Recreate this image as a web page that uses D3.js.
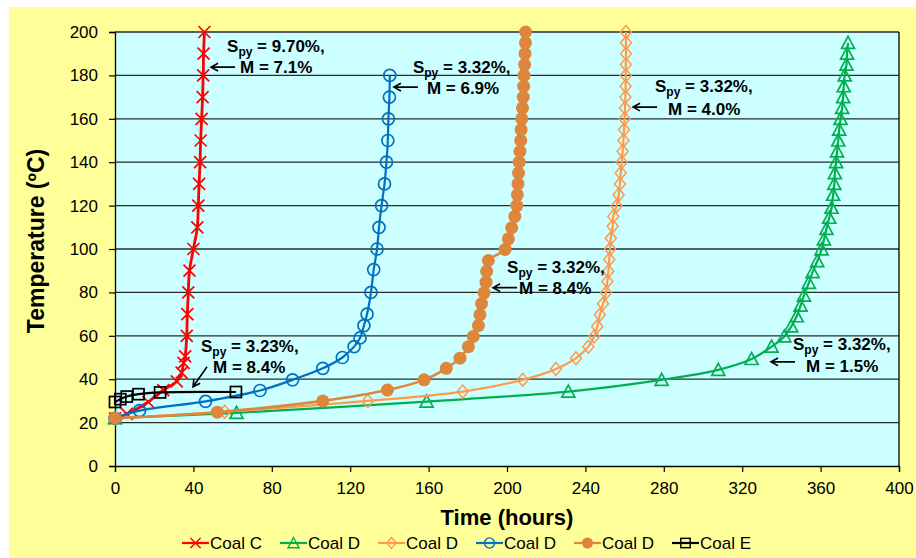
<!DOCTYPE html>
<html>
<head>
<meta charset="utf-8">
<script src="https://cdn.jsdelivr.net/npm/d3@7"></script>
<style>
  body { margin: 0; background: #fff; }
  text { font-family: "Liberation Sans", Arial, sans-serif; }
</style>
</head>
<body>
<svg id="chart" width="916" height="558"></svg>
<script>
// [time (hours), temperature (C)]
var coalC = [[0,22],[6,24],[17,29.5],[24.6,35],[31.5,39],[34,43],[35,47.5],[35.8,50.5],[36.6,60],[36.9,70],
  [37.4,80],[38,90],[40,100],[42,110],[42.5,120],[42.9,130],[43.4,140],[43.7,150],[44.2,160],[44.7,170],
  [45,180],[45.2,190],[45.6,200]];
var coalD_green = [[0,22],[62,24.5],[159,29.7],[231.3,34.3],[278.9,39.7],[307.8,44.3],[324.8,49.3],[335,55],
  [341.5,59.7],[345,64.3],[347.8,69],[349.8,73.9],[351.5,78.5],[354,84.4],[355.9,89.3],[358.3,94.4],
  [360.5,99.8],[361.7,104.4],[363,109.3],[364.4,114.4],[365.6,119],[366.4,125],[367,130],[367.3,135],
  [367.9,140],[368.4,145],[369,150],[369.5,155],[370.2,160],[371,165],[371.5,170],[371.8,175],[372.3,180],
  [373.2,185],[373.5,190],[374,195]];
var coalD_orange = [[0,22],[56,25],[129,30],[177.4,34.3],[208,39.7],[225,44.7],[235.2,49.7],[241.5,55],
  [244.5,59.7],[246,64.3],[247.4,69.7],[249,74.8],[250.5,79.8],[251.2,85],[251.7,89.7],[252.2,95.2],
  [252.6,100],[253,105],[253.9,110.5],[254.2,115],[255.9,119.8],[257,125],[257.6,130],[258,135],[258.5,140],
  [259,145],[259.4,150],[259.7,155],[260,160],[260.2,165],[260.4,170],[260.5,175],[260.6,180],[260.6,185],
  [260.7,190],[260.7,195],[260.7,200]];
var coalD_blue = [[0,22],[12.5,25.5],[46.2,29.8],[74,34.8],[90.6,39.7],[106,45],[116,50],[122,55],[125,59],
  [127,64.7],[128.6,70],[130.6,80],[132,90.5],[133.7,100],[134.7,110],[136,120],[137.5,130],[138.5,140],
  [139.2,150],[139.5,160],[140,170],[140.2,180]];
var coalD_brown = [[0,22],[52.2,24.8],[106,30],[139,35],[157.7,39.7],[169,45],[176,49.7],[180.3,55],
  [182.8,59.7],[185.4,64.7],[186.2,69.7],[187,74.8],[188.3,79.8],[189.3,84.7],[189.6,89.7],[190.5,94.7],
  [199,99.8],[200.7,104.7],[202.4,109.8],[204,115],[205,120],[205.3,125],[205.6,130],[205.9,135],[206.2,140],
  [206.6,145],[207,150],[207.2,155],[207.5,160],[207.9,165],[208.3,170],[208.5,175],[208.7,180],[209,185],
  [209.2,190],[209.4,195],[209.5,200]];
var coalE = [[0,29.5],[2.7,30.8],[6,32],[12,33.1],[23,33.9],[61.7,34.1]];

var seriesNames = ["Coal C", "Coal D", "Coal D", "Coal D", "Coal D", "Coal E"];
var xTicks = [0, 40, 80, 120, 160, 200, 240, 280, 320, 360, 400];
var yTicks = [0, 20, 40, 60, 80, 100, 120, 140, 160, 180, 200];

// callouts: arrow tip in data units, S_py and M values
var notes = [
  { t: 49, T: 183.8, spy: "9.70%,", m: "7.1%" },
  { t: 142.3, T: 174.6, spy: "3.32%,", m: "6.9%" },
  { t: 264.3, T: 165.4, spy: "3.32%,", m: "4.0%" },
  { t: 192.9, T: 82.2, spy: "3.32%,", m: "8.4%" },
  { t: 39.8, T: 36.5, spy: "3.23%,", m: "8.4%" },
  { t: 334.7, T: 48, spy: "3.32%,", m: "1.5%" }
];
// text offsets from the arrow tip (pixels)
var noteLayout = [
  { sx: 16, sy: -15, mx: 29, my: 6, ax: 24, ay: 0 },
  { sx: 19, sy: -14, mx: 33, my: 7, ax: 24, ay: 0 },
  { sx: 22, sy: -15, mx: 35, my: 8, ax: 24, ay: 0 },
  { sx: 14, sy: -15, mx: 26, my: 6, ax: 24, ay: 0 },
  { sx: 8, sy: -35, mx: 20, my: -14, ax: 14, ay: -20 },
  { sx: 22, sy: -12, mx: 35, my: 10, ax: 24, ay: 0 }
];

var svg = d3.select("#chart");
var plot = { left: 115, right: 899, top: 32, bottom: 466 };

var x = d3.scaleLinear().domain([0, 400]).range([plot.left, plot.right]);
var y = d3.scaleLinear().domain([0, 200]).range([plot.bottom, plot.top]);

// backgrounds
svg.append("rect").attr("x", 9).attr("y", 7).attr("width", 907).attr("height", 551).attr("fill", "#FFFF99");
svg.append("rect").attr("x", plot.left).attr("y", plot.top)
  .attr("width", plot.right - plot.left).attr("height", plot.bottom - plot.top)
  .attr("fill", "#CCFFFF");

// gridlines
svg.append("g").selectAll("line").data(yTicks.slice(1)).join("line")
  .attr("x1", plot.left).attr("x2", plot.right)
  .attr("y1", function (d) { return y(d); }).attr("y2", function (d) { return y(d); })
  .attr("stroke", "#2b2b2b").attr("stroke-width", 1.3);

svg.append("line").attr("x1", plot.right).attr("x2", plot.right).attr("y1", plot.top).attr("y2", plot.bottom)
  .attr("stroke", "#000").attr("stroke-width", 1.3);

// axes
var yAxis = d3.axisLeft(y).tickValues(yTicks).tickSize(6).tickPadding(11);
var xAxis = d3.axisBottom(x).tickValues(xTicks).tickSize(6).tickPadding(10);

var gy = svg.append("g").attr("transform", "translate(" + plot.left + ",0)").call(yAxis);
var gx = svg.append("g").attr("transform", "translate(0," + plot.bottom + ")").call(xAxis);
[gx, gy].forEach(function (g) {
  g.selectAll("path.domain").attr("stroke", "#000").attr("stroke-width", 1.3);
  g.selectAll(".tick line").attr("stroke", "#000").attr("stroke-width", 1.2);
  g.selectAll(".tick text").attr("fill", "#000").style("font-size", "17px")
    .style("font-family", "'Liberation Sans', Arial, sans-serif");
});

// axis titles
svg.append("text").attr("x", (plot.left + plot.right) / 2).attr("y", 525).attr("text-anchor", "middle")
  .style("font-size", "22px").style("font-weight", "bold").text("Time (hours)");
svg.append("text").attr("transform", "translate(44,241) rotate(-90)").attr("text-anchor", "middle")
  .style("font-size", "23px").style("font-weight", "bold").text("Temperature (ºC)");

// markers
function marker(g, kind, color) {
  if (kind === "x") {
    g.append("path").attr("d", "M-6,-6L6,6M-6,6L6,-6").attr("stroke", color).attr("stroke-width", 1.7).attr("fill", "none");
  } else if (kind === "tri") {
    g.append("path").attr("d", "M0,-6.5L6.5,5.5L-6.5,5.5Z").attr("stroke", color).attr("stroke-width", 1.7).attr("fill", "none");
  } else if (kind === "dia") {
    g.append("path").attr("d", "M0,-6.5L5.5,0L0,6.5L-5.5,0Z").attr("stroke", color).attr("stroke-width", 1.5).attr("fill", "none");
  } else if (kind === "circ") {
    g.append("circle").attr("r", 6).attr("stroke", color).attr("stroke-width", 1.7).attr("fill", "none");
  } else if (kind === "dot") {
    g.append("circle").attr("r", 6.5).attr("fill", color);
  } else if (kind === "sq") {
    g.append("rect").attr("x", -5.5).attr("y", -5.5).attr("width", 11).attr("height", 11)
      .attr("stroke", color).attr("stroke-width", 1.7).attr("fill", "none");
  }
}

var series = [
  { name: seriesNames[0], data: coalC, color: "#FF0000", kind: "x", width: 2.8 },
  { name: seriesNames[1], data: coalD_green, color: "#00B050", kind: "tri", width: 2.2 },
  { name: seriesNames[2], data: coalD_orange, color: "#FF9A4C", kind: "dia", width: 2.2 },
  { name: seriesNames[3], data: coalD_blue, color: "#0070C0", kind: "circ", width: 2.2 },
  { name: seriesNames[4], data: coalD_brown, color: "#DD863C", kind: "dot", width: 2.6 },
  { name: seriesNames[5], data: coalE, color: "#000000", kind: "sq", width: 2.2 }
];

var line = d3.line()
  .x(function (d) { return x(d[0]); })
  .y(function (d) { return y(d[1]); })
  .curve(d3.curveCatmullRom.alpha(0.5));

series.forEach(function (s) {
  var g = svg.append("g");
  g.append("path").datum(s.data).attr("d", line)
    .attr("fill", "none").attr("stroke", s.color).attr("stroke-width", s.width);
  g.selectAll("g.pt").data(s.data).join("g").attr("class", "pt")
    .attr("transform", function (d) { return "translate(" + x(d[0]) + "," + y(d[1]) + ")"; })
    .each(function () { marker(d3.select(this), s.kind, s.color); });
});

// callouts
notes.forEach(function (n, i) {
  var L = noteLayout[i];
  var tx = x(n.t), ty = y(n.T);
  var g = svg.append("g").style("font-weight", "bold").style("font-size", "17px");
  var t1 = g.append("text").attr("x", tx + L.sx).attr("y", ty + L.sy);
  t1.append("tspan").text("S");
  t1.append("tspan").attr("dy", 4).style("font-size", "12px").text("py");
  t1.append("tspan").attr("dy", -4).text(" = " + n.spy);
  g.append("text").attr("x", tx + L.mx).attr("y", ty + L.my).text("M = " + n.m);
  var ax = tx + L.ax, ay = ty + L.ay;
  var ang = Math.atan2(ay - ty, ax - tx);
  var h = 8, w = 0.5;
  g.append("path")
    .attr("d", "M" + ax + "," + ay + "L" + tx + "," + ty +
      "M" + (tx + h * Math.cos(ang + w)) + "," + (ty + h * Math.sin(ang + w)) +
      "L" + tx + "," + ty +
      "L" + (tx + h * Math.cos(ang - w)) + "," + (ty + h * Math.sin(ang - w)))
    .attr("stroke", "#000").attr("stroke-width", 1.6).attr("fill", "none");
});

// legend
var legend = svg.append("g").attr("transform", "translate(182,543)");
series.forEach(function (s, i) {
  var g = legend.append("g").attr("transform", "translate(" + (i * 98) + ",0)");
  g.append("line").attr("x1", 0).attr("x2", 27).attr("stroke", s.color).attr("stroke-width", 2.2);
  var m = g.append("g").attr("transform", "translate(13.5,0) scale(0.85)");
  marker(m, s.kind, s.color);
  g.append("text").attr("x", 28).attr("y", 6).style("font-size", "17px").text(s.name);
});
</script>
</body>
</html>
